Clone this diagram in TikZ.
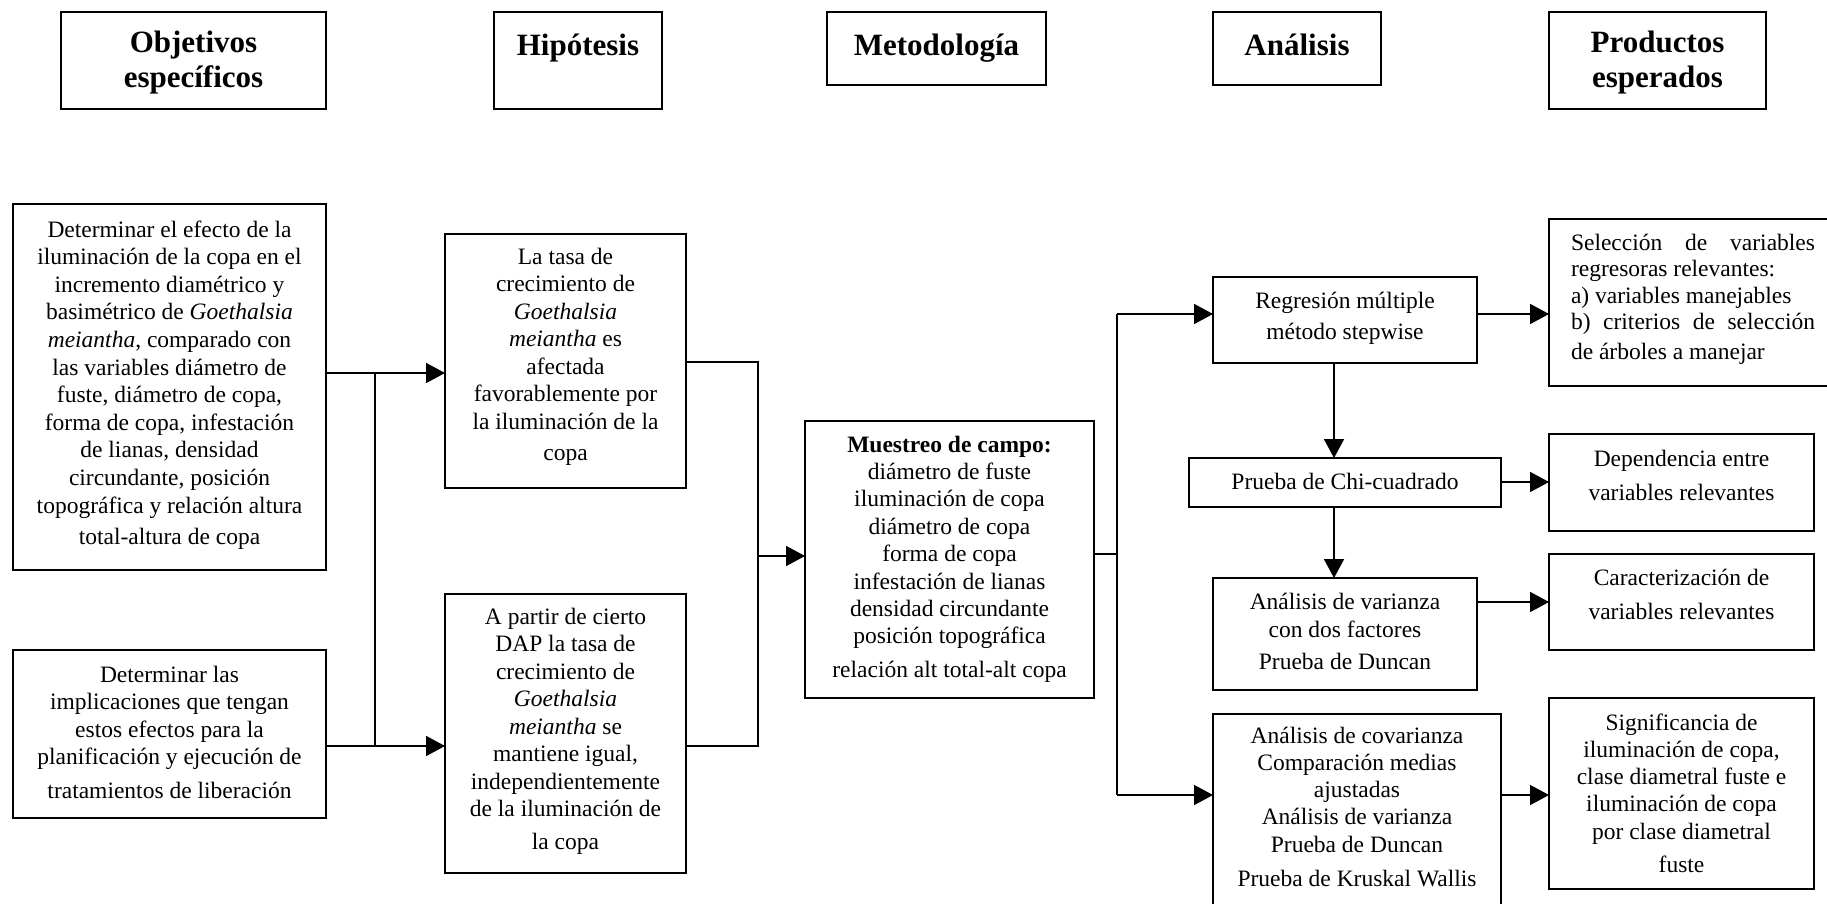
\documentclass[tikz,border=0pt]{standalone}
\usepackage{fontspec}
\setmainfont{Liberation Serif}
\usetikzlibrary{arrows.meta}
\newcommand\bxt[5]{\parbox[c][#2pt][t]{#1pt}{\fontsize{23.5}{#4pt}\selectfont\centering\rule{0pt}{#3pt}#5}}
\newcommand\bxh[4]{\parbox[c][#2pt][t]{#1pt}{\fontsize{31}{35.6}\selectfont\bfseries\centering\rule{0pt}{#3pt}#4}}
\tikzset{
  box/.style={draw, line width=1.8pt, inner sep=0pt, outer sep=0pt, anchor=north west},
  con/.style={line width=1.8pt},
  arr/.style={line width=1.8pt, -{Triangle[length=19pt,width=20pt]}}
}
\begin{document}
\begin{tikzpicture}[x=1pt,y=-1pt]
\useasboundingbox (0,0) rectangle (1827,903);
\clip (0,0) rectangle (1827,903);
% headers
\node[box] (H1) at (61,12) {\bxh{265}{97}{40}{Objetivos\\específicos}};
\node[box] (H2) at (494,12) {\bxh{168}{97}{43}{Hipótesis}};
\node[box] (H3) at (827,12) {\bxh{219}{73}{43}{Metodología}};
\node[box] (H4) at (1213,12) {\bxh{168}{73}{43}{Análisis}};
\node[box] (H5) at (1549,12) {\bxh{217}{97}{40}{Productos\\esperados}};
% objectives
\node[box] (O1) at (13,204) {\bxt{313}{366}{33}{27.6}{Determinar el efecto de la\\iluminación de la copa en el\\incremento diamétrico y\\basimétrico de \textit{Goethalsia}\\\textit{meiantha}, comparado con\\las variables diámetro de\\fuste, diámetro de copa,\\forma de copa, infestación\\de lianas, densidad\\circundante, posición\\topográfica y relación altura\\[3.5pt]total-altura de copa}};
\node[box] (O2) at (13,650) {\bxt{313}{168}{32}{27.5}{Determinar las\\implicaciones que tengan\\estos efectos para la\\planificación y ejecución de\\[6pt]tratamientos de liberación}};
% hypotheses
\node[box] (P1) at (445,234) {\bxt{241}{254}{30}{27.5}{La tasa de\\crecimiento de\\\textit{Goethalsia}\\\textit{meiantha} es\\afectada\\favorablemente por\\la iluminación de la\\[4pt]copa}};
\node[box] (P2) at (445,594) {\bxt{241}{279}{30}{27.5}{A partir de cierto\\DAP la tasa de\\crecimiento de\\\textit{Goethalsia}\\\textit{meiantha} se\\mantiene igual,\\independientemente\\de la iluminación de\\[5pt]la copa}};
% methodology
\node[box] (M) at (805,421) {\bxt{289}{277}{31}{27.4}{\textbf{Muestreo de campo:}\\diámetro de fuste\\iluminación de copa\\diámetro de copa\\forma de copa\\infestación de lianas\\densidad circundante\\posición topográfica\\[6pt]relación alt total-alt copa}};
% analysis
\node[box] (A1) at (1213,277) {\bxt{264}{86}{31}{31}{Regresión múltiple\\método stepwise}};
\node[box] (A2) at (1189,458) {\bxt{312}{49}{31}{27}{Prueba de Chi-cuadrado}};
\node[box] (A3) at (1213,578) {\bxt{264}{112}{31}{28}{Análisis de varianza\\con dos factores\\[4pt]Prueba de Duncan}};
\node[box] (A4) at (1213,714) {\bxt{288}{210}{29}{27.3}{Análisis de covarianza\\Comparación medias\\ajustadas\\Análisis de varianza\\Prueba de Duncan\\[6.5pt]Prueba de Kruskal Wallis}};
% products
\node[box] (R1) at (1549,219) {\bxt{288}{167}{31}{26.5}{\makebox[244pt][s]{Selección de variables}\\\makebox[244pt][l]{regresoras relevantes:}\\\makebox[244pt][l]{a) variables manejables}\\\makebox[244pt][s]{b) criterios de selección}\\[3pt]\makebox[244pt][l]{de árboles a manejar}}};
\node[box] (R2) at (1549,434) {\bxt{265}{97}{32}{34}{Dependencia entre\\variables relevantes}};
\node[box] (R3) at (1549,554) {\bxt{265}{96}{31}{34}{Caracterización de\\variables relevantes}};
\node[box] (R4) at (1549,698) {\bxt{265}{191}{32}{27.3}{Significancia de\\iluminación de copa,\\clase diametral fuste e\\iluminación de copa\\por clase diametral\\[6pt]fuste}};
% connectors
\coordinate (j1) at (375,373);
\coordinate (j2) at (375,746);
\draw[con] (O1.east |- j1) -- (j1) -- (j2) -- (O2.east |- j2);
\draw[arr] (j1) -- (P1.west |- j1);
\draw[arr] (j2) -- (P2.west |- j2);
\coordinate (k1) at (758,362);
\coordinate (k2) at (758,746);
\coordinate (k3) at (758,556);
\draw[con] (P1.east |- k1) -- (k1) -- (k2) -- (P2.east |- k2);
\draw[arr] (k3) -- (M.west |- k3);
\coordinate (m1) at (1117,554);
\coordinate (m2) at (1117,314);
\coordinate (m3) at (1117,795);
\draw[con] (M.east |- m1) -- (m1);
\draw[con] (m2) -- (m3);
\draw[arr] (m2) -- (A1.west |- m2);
\draw[arr] (m3) -- (A4.west |- m3);
\coordinate (dx) at (1334,0);
\draw[arr] (A1.south -| dx) -- (A2.north -| dx);
\draw[arr] (A2.south -| dx) -- (A3.north -| dx);
\coordinate (r2) at (0,482);
\coordinate (r3) at (0,602);
\draw[arr] (A1.east |- m2) -- (R1.west |- m2);
\draw[arr] (A2.east |- r2) -- (R2.west |- r2);
\draw[arr] (A3.east |- r3) -- (R3.west |- r3);
\draw[arr] (A4.east |- m3) -- (R4.west |- m3);
\end{tikzpicture}
\end{document}
